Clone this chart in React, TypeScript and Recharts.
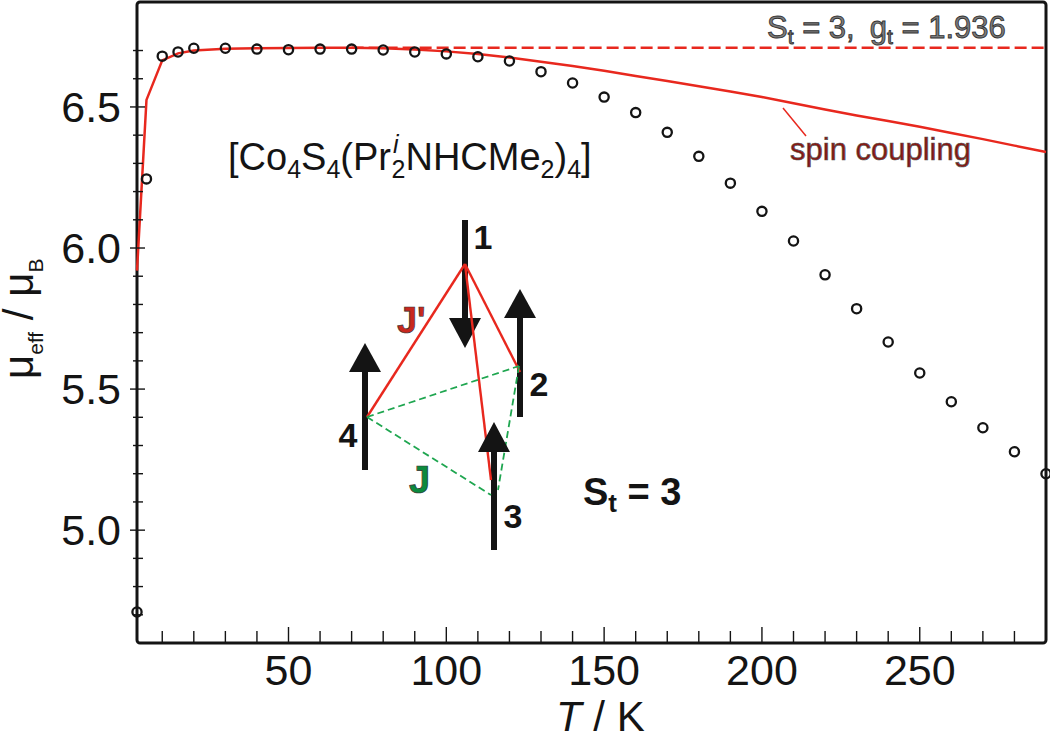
import {
  ComposedChart,
  Line,
  XAxis,
  YAxis,
  ReferenceArea,
} from "recharts";

const temperatures = [
  2, 5, 10, 15, 20, 30, 40, 50, 60, 70, 80, 90, 100, 110, 120, 130, 140, 150,
  160, 170, 180, 190, 200, 210, 220, 230, 240, 250, 260, 270, 280, 290,
];
const measured = [
  4.71, 6.245, 6.68, 6.695, 6.708, 6.708, 6.705, 6.703, 6.705, 6.705, 6.702,
  6.695, 6.688, 6.678, 6.663, 6.625, 6.585, 6.535, 6.48, 6.41, 6.325, 6.23,
  6.13, 6.025, 5.905, 5.785, 5.667, 5.557, 5.455, 5.363, 5.278, 5.2,
];
const spinCoupling = [
  5.92, 6.525, 6.665, 6.69, 6.7, 6.706, 6.708, 6.709, 6.71, 6.71, 6.708, 6.704,
  6.697, 6.688, 6.675, 6.66, 6.645, 6.628, 6.61, 6.592, 6.573, 6.555, 6.535,
  6.513, 6.491, 6.47, 6.45, 6.43, 6.408, 6.386, 6.363, 6.34,
];
const LIMIT = 6.71;
const LIMIT_FROM = 70;

const xTicks = [
  10, 20, 30, 40, 50, 60, 70, 80, 90, 100, 110, 120, 130, 140, 150, 160, 170,
  180, 190, 200, 210, 220, 230, 240, 250, 260, 270, 280,
];
const yTicks = [
  4.7, 4.8, 4.9, 5.0, 5.1, 5.2, 5.3, 5.4, 5.5, 5.6, 5.7, 5.8, 5.9, 6.0, 6.1,
  6.2, 6.3, 6.4, 6.5, 6.6, 6.7,
];
const yLabelled = [5.0, 5.5, 6.0, 6.5];

const rows = temperatures.map((T, i) => ({
  T,
  measured: measured[i],
  fit: spinCoupling[i],
  limit: T >= LIMIT_FROM ? LIMIT : null,
}));

const FONT = '"Liberation Sans", Arial, sans-serif';
const INK = "#141414";
const RED = "#e8281e";
const GREEN = "#1fa650";

function XTick({ x, y, payload }: any) {
  const major = payload.value % 50 === 0;
  return (
    <g>
      <line x1={x} x2={x} y1={y} y2={y - (major ? 16 : 12)} stroke={INK} strokeWidth={1.4} />
      {major && (
        <text x={x} y={y + 42} textAnchor="middle" fontSize={43} fontFamily={FONT} fill={INK}>
          {payload.value}
        </text>
      )}
    </g>
  );
}

function YTick({ x, y, payload }: any) {
  const major = yLabelled.includes(payload.value);
  return (
    <g>
      <line
        x1={x + (major ? -7 : -4)}
        x2={x + (major ? 8 : 6)}
        y1={y}
        y2={y}
        stroke={INK}
        strokeWidth={1.4}
      />
      {major && (
        <text x={121} y={y + 15} textAnchor="end" fontSize={43} fontFamily={FONT} fill={INK}>
          {payload.value.toFixed(1)}
        </text>
      )}
    </g>
  );
}

function Arrow({ x, tip, base, tail }: { x: number; tip: number; base: number; tail: number }) {
  // tip may sit above or below the tail, the head just follows it
  return (
    <g fill={INK}>
      <rect x={x - 3} y={Math.min(base, tail)} width={6} height={Math.abs(tail - base)} />
      <polygon points={`${x},${tip} ${x - 16},${base} ${x + 16},${base}`} />
    </g>
  );
}

function Annotations() {
  return (
    <svg
      width={1050}
      height={733}
      style={{ position: "absolute", left: 0, top: 0, pointerEvents: "none" }}
      fontFamily={FONT}
    >
      <text x={556} y={731} fontSize={42} fill={INK}>
        <tspan fontStyle="italic">T</tspan> / K
      </text>

      <text transform="translate(33,379) rotate(-90)" fontSize={42} fill={INK}>
        μ<tspan fontSize={21} dy={10}>eff</tspan>
        <tspan dy={-10}> / μ</tspan>
        <tspan fontSize={21} dy={10}>B</tspan>
      </text>

      <text x={228} y={170} fontSize={38} fill={INK}>
        [Co<tspan fontSize={25} dy={8}>4</tspan>
        <tspan dy={-8}>S</tspan>
        <tspan fontSize={25} dy={8}>4</tspan>
        <tspan dy={-8}>(Pr</tspan>
        <tspan fontSize={25} dy={-17} fontStyle="italic" dx={2}>i</tspan>
        <tspan fontSize={25} dy={25} dx={-7}>2</tspan>
        <tspan dy={-8}>NHCMe</tspan>
        <tspan fontSize={25} dy={8}>2</tspan>
        <tspan dy={-8}>)</tspan>
        <tspan fontSize={25} dy={8}>4</tspan>
        <tspan dy={-8}>]</tspan>
      </text>

      <text x={767} y={38} fontSize={31} fill="#7c7c7c" stroke="#333" strokeWidth={0.9}>
        S<tspan fontSize={21} dy={6}>t</tspan>
        <tspan dy={-6}> = 3,</tspan>
        <tspan dx={15}>g</tspan>
        <tspan fontSize={21} dy={6}>t</tspan>
        <tspan dy={-6}> = 1.936</tspan>
      </text>

      <line x1={783} y1={108} x2={806} y2={136} stroke={RED} strokeWidth={1.5} />
      <text x={790} y={160} fontSize={31} fill="#8c1710" stroke="#555" strokeWidth={0.7}>
        spin coupling
      </text>

      <Arrow x={465} tip={348} base={318} tail={220} />
      <Arrow x={520} tip={289} base={318} tail={417} />
      <Arrow x={365} tip={343} base={372} tail={470} />
      <rect x={491} y={452} width={6} height={98} fill={INK} />

      <g stroke={RED} strokeWidth={2.4} fill="none">
        <line x1={465} y1={264} x2={367} y2={417} />
        <line x1={465} y1={264} x2={520} y2={372} />
        <line x1={465} y1={264} x2={491} y2={480} />
      </g>
      <g stroke={GREEN} strokeWidth={1.8} strokeDasharray="7 4" fill="none">
        <line x1={367} y1={417} x2={519} y2={366} />
        <line x1={367} y1={417} x2={491} y2={495} />
        <line x1={519} y1={366} x2={498} y2={490} />
      </g>
      <polygon points="494,422 478,452 510,452" fill={INK} />

      <g fontSize={34} fontWeight="bold" fill={INK} textAnchor="middle">
        <text x={483} y={249}>1</text>
        <text x={539} y={396}>2</text>
        <text x={513} y={528}>3</text>
        <text x={348} y={447}>4</text>
      </g>
      <text x={397} y={333} fontSize={36} fontWeight="bold" fill="#c8281e" stroke="#333" strokeWidth={0.7}>
        J'
      </text>
      <text x={409} y={493} fontSize={38} fontWeight="bold" fill="#0c8a3e" stroke="#333" strokeWidth={0.7}>
        J
      </text>

      <text x={583} y={505} fontSize={38} fontWeight="bold" fill={INK}>
        S<tspan fontSize={26} dy={7}>t</tspan>
        <tspan dy={-7}> = 3</tspan>
      </text>
    </svg>
  );
}

export default function App() {
  return (
    <div style={{ position: "absolute", left: 0, top: 0, width: 1050, height: 733, background: "#fff" }}>
      <ComposedChart
        width={1050}
        height={733}
        data={rows}
        margin={{ top: 2, right: 4, bottom: 0, left: 0 }}
      >
        <XAxis
          dataKey="T"
          type="number"
          domain={[2, 290]}
          ticks={xTicks}
          interval={0}
          height={90}
          axisLine={false}
          tickLine={false}
          tickSize={0}
          tickMargin={0}
          tick={<XTick />}
        />
        <YAxis
          type="number"
          domain={[4.6, 6.872]}
          ticks={yTicks}
          interval={0}
          width={137}
          axisLine={false}
          tickLine={false}
          tickSize={0}
          tickMargin={0}
          tick={<YTick />}
        />
        <ReferenceArea
          x1={2}
          x2={290}
          y1={4.6}
          y2={6.872}
          fill="none"
          stroke={INK}
          strokeWidth={3}
          radius={3}
        />
        <Line
          dataKey="limit"
          stroke={RED}
          strokeWidth={2.6}
          strokeDasharray="12 5"
          dot={false}
          connectNulls
          isAnimationActive={false}
        />
        <Line dataKey="fit" stroke={RED} strokeWidth={2.5} dot={false} isAnimationActive={false} />
        <Line
          dataKey="measured"
          stroke="none"
          dot={{ r: 4.6, stroke: INK, strokeWidth: 2.3, fill: "none" }}
          isAnimationActive={false}
        />
      </ComposedChart>
      <Annotations />
    </div>
  );
}
